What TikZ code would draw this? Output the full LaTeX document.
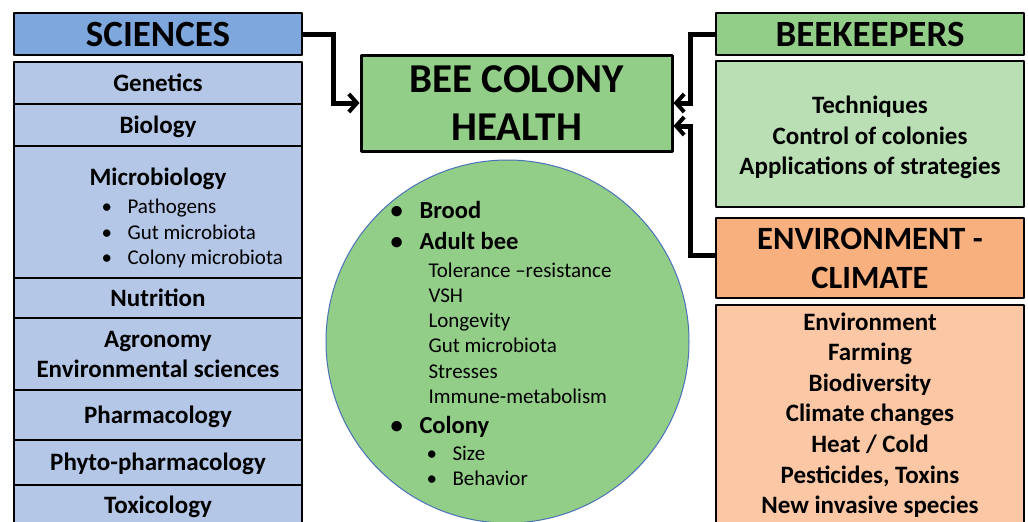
\documentclass[tikz,border=0pt]{standalone}
\usepackage{fontspec}
\setmainfont{Carlito}
\usetikzlibrary{arrows.meta,positioning}
\definecolor{beeSciHead}{HTML}{7EA8DD}
\definecolor{beeSciItem}{HTML}{B4C7E7}
\definecolor{beeGreen}{HTML}{93CE88}
\definecolor{beeGreenSoft}{HTML}{BADFB5}
\definecolor{beeOrange}{HTML}{F9B07F}
\definecolor{beeOrangeSoft}{HTML}{FBC7A5}
\definecolor{beeRim}{HTML}{4A72B8}

\begin{document}
\begin{tikzpicture}[x=1pt,y=-1pt,>=Latex,line cap=round,line join=round]
\clip (0,0) rectangle (1028,522);
\path[fill=white] (0,0) rectangle (1028,522);
\tikzset{box/.style={draw=black,line width=2.5pt,rectangle,inner sep=0pt,align=center,text=black},head/.style={box,font=\fontsize{37}{40}\selectfont\bfseries},item/.style={box,fill=beeSciItem,minimum width=288pt,font=\fontsize{25}{30}\selectfont\bfseries},oneline/.style={text height=16pt,text depth=0pt},side/.style={box,minimum width=308pt,font=\fontsize{25}{30.6}\selectfont\bfseries},link/.style={draw=black,line width=5pt,line cap=butt,line join=miter,-{Straight Barb[length=8pt,width=18pt,line width=4pt]}},small/.style={anchor=base west,font=\fontsize{21}{24}\selectfont},big/.style={anchor=base west,font=\fontsize{24.5}{28}\selectfont\bfseries}}
% left column
\node[head,fill=beeSciHead,minimum width=288pt,minimum height=42pt] (sci) at (158,34) {SCIENCES};
\node[item,oneline,minimum height=42pt] (gen) at (158,83) {Genetics};
\node[item,oneline,minimum height=42pt] (bio) at (158,125) {Biology};
\node[item,minimum height=132pt] (micro) at (158,212) {};
\node[item,oneline,minimum height=40pt] (nutr) at (158,298) {Nutrition};
\node[item,minimum height=72pt] (agro) at (158,354) {Agronomy\\Environmental sciences};
\node[item,oneline,minimum height=50pt] (pharm) at (158,415) {Pharmacology};
\node[item,oneline,minimum height=45pt] (phyto) at (158,462.5) {Phyto-pharmacology};
\node[item,oneline,minimum height=40pt] (tox) at (158,505) {Toxicology};
\node[anchor=base,font=\fontsize{25}{30}\selectfont\bfseries] (microT) at (158,185) {Microbiology};
\node[small] (path) at (98,213) {\makebox[26pt][l]{•}Pathogens}; \node[small] (gut) at (98,239) {\makebox[26pt][l]{•}Gut microbiota}; \node[small] (colm) at (98,264) {\makebox[26pt][l]{•}Colony microbiota};
% centre
\node[box,fill=beeGreen,line width=3pt,minimum width=311pt,minimum height=96pt,font=\fontsize{41}{48}\selectfont\bfseries] (hub) at (516.5,103) {BEE COLONY\\HEALTH};
\node[circle,draw=beeRim,line width=1pt,fill=beeGreen,minimum size=363pt] (colony) at (507.5,341.5) {};
\node[big] (brood) at (387,218) {\makebox[29pt][l]{•}Brood}; \node[big] (adult) at (387,249) {\makebox[29pt][l]{•}Adult bee};
\node[small] (tol) at (425,277) {Tolerance –resistance}; \node[small] (vsh) at (425,302) {VSH}; \node[small] (lon) at (425,327) {Longevity};
\node[small] (gutb) at (425,352) {Gut microbiota}; \node[small] (str) at (425,378) {Stresses}; \node[small] (imm) at (425,403) {Immune-metabolism};
\node[big] (col) at (387,433) {\makebox[29pt][l]{•}Colony};
\node[small] (size) at (423,460) {\makebox[26pt][l]{•}Size}; \node[small] (beh) at (423,485) {\makebox[26pt][l]{•}Behavior};
% right column
\node[head,fill=beeGreen,minimum width=308pt,minimum height=42pt] (keep) at (870,34) {BEEKEEPERS};
\node[side,fill=beeGreenSoft,minimum height=146pt] (keepB) at (870,134) {\rule{0pt}{25pt}Techniques\\Control of colonies\\Applications of strategies};
\node[box,fill=beeOrange,minimum width=308pt,minimum height=80pt,font=\fontsize{32.5}{39}\selectfont\bfseries] (envH) at (870,258) {ENVIRONMENT -\\CLIMATE};
\node[side,fill=beeOrangeSoft,minimum height=220pt] (envB) at (870,415) {Environment\\Farming\\Biodiversity\\Climate changes\\Heat / Cold\\Pesticides, Toxins\\New invasive species};
% arrows
\draw[link] (sci.east) -- ++(30,0) |- (hub.west);
\draw[link] (keep.west) -- ++(-24,0) |- (hub.east);
\draw[link] (envH.west) ++(0,-3) -- ++(-24,0) |- ([yshift=-23pt]hub.east);
\end{tikzpicture}
\end{document}
